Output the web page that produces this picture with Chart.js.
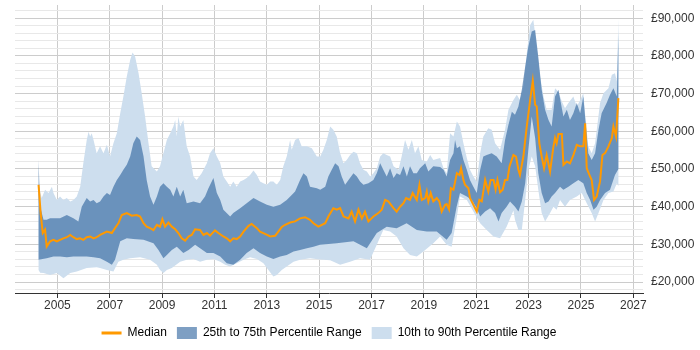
<!DOCTYPE html>
<html>
<head>
<meta charset="utf-8">
<title>Salary percentiles</title>
<script src="https://cdn.jsdelivr.net/npm/chart.js@4.4.1/dist/chart.umd.min.js"></script>
<style>
  html, body { margin: 0; padding: 0; background: #fff; }
  #wrap { width: 700px; height: 350px; }
</style>
</head>
<body>
<div id="wrap"><canvas id="salary-chart" width="700" height="350"></canvas></div>
<script>
// year as decimal
const medianYears = [2004.28,2004.36,2004.44,2004.53,2004.59,2004.72,2004.85,2004.98,2005.10,2005.23,2005.36,2005.49,2005.61,2005.74,2005.87,2005.99,2006.12,2006.25,2006.38,2006.50,2006.63,2006.89,2007.08,2007.20,2007.33,2007.46,2007.65,2007.84,2008.03,2008.16,2008.29,2008.41,2008.54,2008.67,2008.80,2008.92,2009.01,2009.11,2009.24,2009.37,2009.50,2009.62,2009.75,2009.88,2010.01,2010.13,2010.26,2010.45,2010.58,2010.71,2010.83,2011.02,2011.15,2011.34,2011.47,2011.60,2011.72,2011.85,2011.98,2012.11,2012.30,2012.42,2012.62,2012.74,2012.93,2013.13,2013.32,2013.44,2013.57,2013.70,2013.89,2014.08,2014.27,2014.46,2014.65,2014.78,2014.97,2015.23,2015.35,2015.54,2015.67,2015.80,2015.93,2016.12,2016.24,2016.37,2016.50,2016.63,2016.75,2016.88,2017.07,2017.26,2017.39,2017.52,2017.64,2017.84,2017.96,2018.09,2018.22,2018.32,2018.47,2018.57,2018.73,2018.83,2018.92,2019.05,2019.11,2019.17,2019.26,2019.36,2019.49,2019.59,2019.68,2019.81,2019.87,2019.96,2020.03,2020.13,2020.26,2020.36,2020.42,2020.51,2020.57,2020.70,2020.76,2020.89,2021.02,2021.12,2021.21,2021.34,2021.46,2021.55,2021.66,2021.74,2021.81,2021.91,2022.01,2022.10,2022.19,2022.27,2022.42,2022.52,2022.61,2022.67,2022.80,2022.93,2023.06,2023.16,2023.25,2023.31,2023.41,2023.50,2023.59,2023.69,2023.82,2023.95,2024.01,2024.07,2024.14,2024.27,2024.33,2024.46,2024.58,2024.71,2024.84,2024.97,2025.09,2025.16,2025.22,2025.35,2025.41,2025.50,2025.60,2025.73,2025.82,2025.92,2026.05,2026.18,2026.24,2026.34,2026.43];
const medianValues = [45800,38300,33000,33900,29400,30800,31200,30800,31200,31600,31900,32500,31900,31400,31600,31200,31900,32100,31600,31900,32500,33400,33000,34300,35600,37800,38300,37600,37800,37400,35600,34700,34300,33800,35200,34700,36700,34700,35800,34700,34000,33000,31600,31000,32100,32500,34000,33800,32500,33000,32300,33700,33000,32100,31600,30800,31600,31400,32100,33400,34900,35400,34300,33400,32800,32100,32300,33400,34600,35200,35800,36100,36900,37200,36500,35600,34700,35600,37400,39600,39200,39600,37400,36900,38700,36100,39200,36900,38700,36100,37400,38300,39200,41800,41400,39600,38700,40000,40900,42300,41800,43600,41800,45800,41800,42300,44000,41400,43600,41400,42300,41400,38700,40500,40700,39300,44900,44500,48900,48400,50200,47100,45800,44900,42300,40500,38700,41800,41400,47100,44000,47100,47100,44500,47100,43800,44500,47100,47100,50700,53700,53300,49800,48400,53300,61300,68300,73400,67000,66600,56800,53300,50200,53700,49300,56000,58200,56800,59300,59300,51100,52000,51500,53700,56400,56000,56000,62100,50200,48000,47100,41800,42700,46700,53700,54200,56000,58200,61300,58600,68800];

const p75Years = [2004.28,2004.34,2004.47,2004.59,2004.72,2004.85,2005.10,2005.36,2005.61,2005.80,2005.93,2006.12,2006.25,2006.38,2006.50,2006.63,2006.76,2006.89,2007.01,2007.14,2007.27,2007.40,2007.52,2007.65,2007.78,2007.90,2008.03,2008.16,2008.29,2008.41,2008.54,2008.67,2008.80,2008.92,2009.05,2009.18,2009.31,2009.43,2009.56,2009.69,2009.81,2009.94,2010.20,2010.45,2010.64,2010.77,2010.96,2011.09,2011.22,2011.34,2011.60,2011.72,2011.98,2012.23,2012.49,2012.74,2013.00,2013.25,2013.51,2013.76,2013.95,2014.08,2014.27,2014.40,2014.53,2014.65,2014.91,2015.04,2015.23,2015.35,2015.48,2015.61,2015.74,2015.86,2015.99,2016.12,2016.31,2016.44,2016.56,2016.69,2016.88,2017.07,2017.20,2017.33,2017.45,2017.58,2017.71,2017.84,2017.96,2018.09,2018.22,2018.35,2018.47,2018.60,2018.73,2018.85,2019.05,2019.17,2019.36,2019.62,2019.75,2019.87,2020.00,2020.13,2020.19,2020.26,2020.38,2020.51,2020.64,2020.76,2020.89,2021.02,2021.15,2021.27,2021.40,2021.59,2021.78,2021.97,2022.10,2022.23,2022.36,2022.48,2022.61,2022.74,2022.87,2022.99,2023.12,2023.25,2023.37,2023.50,2023.63,2023.76,2023.88,2024.01,2024.14,2024.27,2024.33,2024.46,2024.58,2024.71,2024.84,2024.97,2025.09,2025.18,2025.28,2025.41,2025.54,2025.67,2025.79,2025.98,2026.11,2026.24,2026.37,2026.43];
const p75Values = [52400,40000,36500,36500,36900,36900,36900,37800,36900,36100,40000,42300,41400,41800,40900,41400,42700,43600,43100,45300,47100,48400,49800,51100,53300,56800,58600,57700,53300,47100,42700,40500,42700,45300,46200,45300,44500,42700,45300,42700,44500,40900,41400,40900,42700,44900,47600,43600,41800,39200,37400,38300,39600,40900,42300,41400,40500,40000,40500,41800,43100,44000,47100,48900,48000,45300,44900,44500,45300,48000,49800,51500,50700,48000,45800,47100,48900,48000,46700,45800,46200,47100,48900,51500,49800,48000,50200,47600,48900,48400,50700,48000,50700,48900,48900,50200,51500,49300,50700,50500,49800,48000,52400,54200,57700,55500,56000,52400,49800,47100,45300,43600,49800,53300,53700,54200,53300,51500,57700,61700,65200,64400,66600,71000,77200,82500,86500,86900,79800,71000,65700,63000,61300,69200,71000,66100,63900,65700,63000,64800,67500,64800,69200,62100,54200,52400,54200,60400,64800,67500,69700,71400,69200,86000];

const p25Years = [2004.28,2004.59,2004.85,2005.10,2005.36,2005.61,2005.87,2006.12,2006.38,2006.63,2006.89,2007.08,2007.20,2007.40,2007.65,2007.90,2008.29,2008.67,2008.86,2009.05,2009.18,2009.37,2009.56,2009.81,2010.01,2010.26,2010.45,2010.71,2010.96,2011.22,2011.47,2011.72,2011.98,2012.23,2012.49,2012.74,2013.00,2013.25,2013.51,2013.76,2014.02,2014.27,2014.53,2014.78,2015.03,2015.67,2016.31,2016.82,2017.20,2017.58,2017.96,2018.34,2018.73,2019.11,2019.49,2019.87,2020.06,2020.25,2020.38,2020.64,2020.83,2021.02,2021.15,2021.34,2021.53,2021.72,2021.85,2021.97,2022.16,2022.29,2022.48,2022.61,2022.74,2022.87,2022.99,2023.12,2023.25,2023.37,2023.50,2023.63,2023.76,2023.88,2024.01,2024.20,2024.33,2024.52,2024.71,2024.90,2025.09,2025.22,2025.35,2025.48,2025.60,2025.73,2025.92,2026.11,2026.30,2026.43];
const p25Values = [25900,26300,26800,26800,26600,26800,26800,26800,26600,26300,25400,24600,25900,30800,31600,31400,31200,30300,28500,26300,27200,28500,29400,27700,28500,29900,29000,27700,27700,26800,25000,24600,25900,27700,29000,27700,26800,26100,26800,27200,28100,28500,29000,29400,29900,30300,30800,29000,33000,34700,34300,35600,33800,33400,33400,31200,33000,40000,43600,42700,41800,39600,37400,38700,39600,38300,36100,38300,40000,41400,40000,38700,41400,46200,55100,63900,58200,48900,43600,40900,41400,42700,43600,45300,44500,45300,46200,47100,46200,43600,41800,39200,40000,41800,43600,44500,48400,50000];

const p90Years = [2004.28,2004.40,2004.53,2004.66,2004.79,2004.85,2004.98,2005.10,2005.23,2005.36,2005.49,2005.61,2005.74,2005.87,2005.99,2006.12,2006.19,2006.25,2006.31,2006.38,2006.50,2006.63,2006.76,2006.89,2007.01,2007.14,2007.27,2007.40,2007.52,2007.65,2007.78,2007.87,2007.97,2008.10,2008.22,2008.35,2008.48,2008.60,2008.80,2008.92,2009.05,2009.18,2009.31,2009.43,2009.50,2009.56,2009.62,2009.69,2009.81,2009.94,2010.07,2010.20,2010.32,2010.51,2010.71,2010.83,2010.96,2011.09,2011.22,2011.34,2011.47,2011.60,2011.72,2011.85,2011.98,2012.11,2012.23,2012.36,2012.49,2012.62,2012.74,2012.87,2013.00,2013.13,2013.25,2013.38,2013.51,2013.63,2013.76,2013.89,2013.95,2014.08,2014.21,2014.33,2014.53,2014.72,2014.91,2015.04,2015.16,2015.29,2015.42,2015.54,2015.67,2015.80,2015.93,2016.05,2016.18,2016.31,2016.44,2016.56,2016.69,2016.82,2016.95,2017.07,2017.20,2017.33,2017.45,2017.58,2017.71,2017.84,2018.03,2018.15,2018.28,2018.41,2018.54,2018.66,2018.79,2018.92,2019.11,2019.24,2019.36,2019.62,2019.75,2019.87,2020.00,2020.13,2020.26,2020.38,2020.51,2020.64,2020.76,2020.89,2021.02,2021.15,2021.27,2021.46,2021.59,2021.72,2021.91,2022.10,2022.23,2022.42,2022.55,2022.67,2022.80,2022.93,2023.06,2023.18,2023.31,2023.44,2023.57,2023.69,2023.88,2024.01,2024.14,2024.27,2024.39,2024.52,2024.71,2024.84,2024.97,2025.09,2025.18,2025.28,2025.41,2025.54,2025.73,2025.86,2026.05,2026.18,2026.30,2026.37,2026.43];
const p90Values = [45800,42300,44500,43600,45300,43600,41800,42700,41800,42300,41400,41800,42700,45300,51500,57700,59900,58600,59500,57700,54200,56000,54200,56400,53300,56800,59500,64800,69200,74500,78900,80900,79800,75400,70100,63900,56800,50700,49300,50700,54200,57700,59500,61300,63000,58600,63900,61300,63000,56000,53300,48000,47100,48900,51500,54200,55500,53300,51500,48000,46700,45300,46700,45300,46700,47100,47600,48400,49600,48400,46700,46200,45800,46700,46700,45800,47100,50700,53300,57700,55100,57700,58200,56000,56000,55500,53300,53300,55100,57700,61300,60400,58600,54200,51500,52400,53700,54600,54200,51500,49800,49300,48000,48900,50200,53300,54200,53700,53300,50700,49800,53300,57700,55100,57700,54200,56000,52400,52000,53700,52400,52900,50200,48900,59500,58600,62600,61300,56800,52900,49800,48000,46700,54200,58600,60800,60400,56800,55100,60400,65700,68300,69700,68300,71900,80700,88200,89600,82500,74500,69200,65700,65700,71400,70500,67900,66100,67500,69200,66600,68300,70100,63000,56000,54200,56800,67500,70100,71400,75000,75400,73200,90000];

const p10Years = [2004.28,2004.34,2004.47,2004.72,2004.98,2005.23,2005.49,2005.74,2006.12,2006.50,2006.63,2006.89,2007.14,2007.33,2007.52,2007.78,2008.16,2008.54,2008.80,2008.92,2009.05,2009.18,2009.37,2009.69,2009.94,2010.20,2010.45,2010.71,2010.96,2011.22,2011.41,2011.60,2011.85,2012.11,2012.36,2012.62,2012.87,2013.06,2013.25,2013.38,2013.57,2013.76,2014.02,2014.27,2014.65,2015.03,2015.42,2015.80,2016.18,2016.56,2016.94,2017.20,2017.45,2017.71,2017.96,2018.22,2018.47,2018.73,2018.98,2019.36,2019.62,2019.87,2020.06,2020.25,2020.38,2020.64,2020.89,2021.15,2021.40,2021.66,2021.91,2022.16,2022.42,2022.48,2022.61,2022.74,2022.87,2022.99,2023.12,2023.25,2023.37,2023.50,2023.63,2023.82,2023.95,2024.07,2024.20,2024.39,2024.58,2024.84,2025.03,2025.22,2025.41,2025.54,2025.67,2025.86,2026.05,2026.24,2026.37,2026.43];
const p10Values = [23200,22500,22400,21900,22400,21000,22400,22800,23700,23900,23700,23200,22800,25400,25900,26300,26600,25900,24600,23200,22400,23200,23700,25400,25900,26100,25400,25900,26100,25400,24600,24100,25000,25900,26600,26100,25000,23200,21500,21900,23200,24100,25400,25900,26300,26000,25800,24600,25400,26300,25900,29900,33800,33400,32100,29000,27200,26800,28100,30300,32100,29900,29400,36900,42700,41800,38700,35600,33800,32100,31600,34700,39000,36500,33800,33800,41800,49800,53300,50700,44500,38300,36100,38300,40000,39200,41800,40000,41800,42700,43600,40900,38300,36100,38300,41800,43600,44000,46200,45500];

const yearTicks = [2005, 2007, 2009, 2011, 2013, 2015, 2017, 2019, 2021, 2023, 2025, 2027];
const salaryLabels = [20000, 30000, 40000, 50000, 60000, 70000, 80000, 90000];

const orange = '#ff9900';
const darkBand = 'rgba(40, 95, 155, 0.6)';
const lightBand = '#cddeee';
const fontFamily = "'Liberation Sans', Arial, sans-serif";

function pairs(xs, ys) {
	return xs.map(function(x, i) { return { x: x, y: ys[i] }; });
}

// top edge forwards, bottom edge backwards -> one closed shape
function band(topX, topY, botX, botY) {
	return pairs(topX, topY).concat(pairs(botX, botY).reverse());
}

// light grid every 2,000 between the labelled lines
const gridValues = [];
for (let v = 18000; v <= 92000; v += 2000) gridValues.push(v);

const data = {
	datasets: [
		{
			label: 'Median',
			data: pairs(medianYears, medianValues),
			borderColor: orange,
			backgroundColor: orange,
			borderWidth: 2,
			fill: false,
			pointRadius: 0,
			tension: 0
		},
		{
			label: '25th to 75th Percentile Range',
			data: band(p75Years, p75Values, p25Years, p25Values),
			borderWidth: 0,
			borderColor: 'rgba(0,0,0,0)',
			backgroundColor: darkBand,
			fill: 'shape',
			pointRadius: 0
		},
		{
			label: '10th to 90th Percentile Range',
			data: band(p90Years, p90Values, p10Years, p10Values),
			borderWidth: 0,
			borderColor: 'rgba(0,0,0,0)',
			backgroundColor: lightBand,
			fill: 'shape',
			pointRadius: 0
		}
	]
};

const config = {
	type: 'line',
	data: data,
	options: {
		responsive: false,
		animation: false,
		devicePixelRatio: 1,
		layout: {
			padding: { left: 15, right: 0, top: 5, bottom: 1 }
		},
		plugins: {
			tooltip: { enabled: false },
			legend: {
				position: 'bottom',
				fullSize: false,
				labels: {
					usePointStyle: true,
					pointStyleWidth: 20,
					boxHeight: 12,
					padding: 10,
					color: '#333333',
					font: { size: 12, family: fontFamily },
					generateLabels: function(chart) {
						return chart.data.datasets.map(function(ds, i) {
							return {
								text: ds.label,
								fillStyle: ds.backgroundColor,
								strokeStyle: i === 0 ? orange : ds.backgroundColor,
								lineWidth: i === 0 ? 3 : 0,
								pointStyle: i === 0 ? 'line' : 'rect',
								hidden: false,
								datasetIndex: i
							};
						});
					}
				}
			}
		},
		scales: {
			x: {
				type: 'linear',
				min: 2003.38,
				max: 2027.37,
				afterBuildTicks: function(axis) {
					axis.ticks = yearTicks.map(function(v) { return { value: v }; });
				},
				afterFit: function(axis) {
					axis.height = 24;
					axis.paddingLeft = 0;
					axis.paddingRight = 0;
				},
				ticks: {
					autoSkip: false,
					maxRotation: 0,
					padding: 0,
					color: '#333333',
					font: { size: 12, family: fontFamily },
					callback: function(value) { return String(value); }
				},
				grid: {
					color: '#cccccc',
					tickColor: '#333333',
					tickLength: 5
				},
				border: { color: '#333333', width: 1 }
			},
			y: {
				position: 'right',
				min: 17100,
				max: 93500,
				afterBuildTicks: function(axis) {
					axis.ticks = gridValues.map(function(v) { return { value: v }; });
				},
				afterFit: function(axis) {
					axis.width = 57;
					axis.paddingTop = 0;
					axis.paddingBottom = 0;
				},
				ticks: {
					autoSkip: false,
					padding: 8,
					color: '#333333',
					font: { size: 12, family: fontFamily },
					callback: function(value) {
						return salaryLabels.indexOf(value) >= 0 ? '£' + value.toLocaleString('en-GB') : '';
					}
				},
				grid: {
					drawTicks: false,
					color: function(ctx) {
						return ctx.tick && salaryLabels.indexOf(ctx.tick.value) >= 0 ? '#cccccc' : '#e8e8e8';
					}
				},
				border: { display: false }
			}
		}
	}
};

const salaryChart = new Chart(document.getElementById('salary-chart'), config);
</script>
</body>
</html>
